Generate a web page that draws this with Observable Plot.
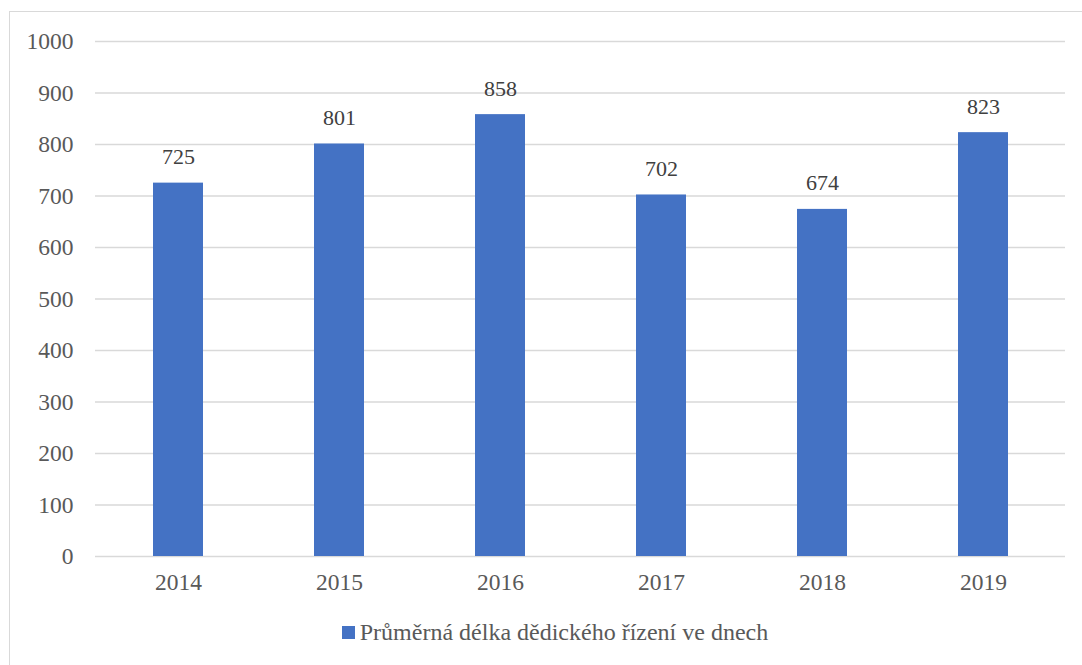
<!DOCTYPE html>
<html><head><meta charset="utf-8">
<script src="https://cdn.jsdelivr.net/npm/d3@7"></script>
<script src="https://cdn.jsdelivr.net/npm/@observablehq/plot@0.6"></script>
<style>
body{margin:0;background:#fff;}
.f{font-family:"Times New Roman",Times,Tinos,"Noto Serif","Liberation Serif","DejaVu Serif",serif;}
#frame{position:absolute;left:9px;top:11px;width:1090px;height:670px;border:1px solid #d9d9d9;box-sizing:border-box;}
#chart{position:absolute;left:0;top:0;}
#legend{position:absolute;left:0;top:619px;width:1110px;text-align:center;font-size:24px;color:#595959;}
#legend span.sw{display:inline-block;width:13px;height:13px;background:#4472C4;margin-right:5px;vertical-align:1px;}
</style></head>
<body class="f">
<div id="frame"></div>
<div id="chart"></div>
<div id="legend" class="f"><span class="sw"></span>Průměrná délka dědického řízení ve dnech</div>
<script>
const years = ["2014","2015","2016","2017","2018","2019"];
const values = [725, 801, 858, 702, 674, 823];
const yTicks = [0,100,200,300,400,500,600,700,800,900,1000];
const data = years.map((y,i)=>({year:y, value:values[i]}));
const FONT = "Times New Roman, Times, Tinos, Noto Serif, Liberation Serif, DejaVu Serif, serif";
const chart = Plot.plot({
  width:1082, height:600,
  marginTop:41, marginBottom:44, marginLeft:95, marginRight:17,
  style:{fontFamily:FONT, fontSize:"23px", color:"#595959", background:"transparent"},
  x:{domain:years, paddingInner:0.69, paddingOuter:0.345, label:null},
  y:{domain:[0,1000], label:null},
  marks:[
    Plot.ruleY(yTicks, {stroke:"#d9d9d9", strokeWidth:1.5}),
    Plot.barY(data, {x:"year", y:"value", fill:"#4472C4"}),
    Plot.text(data, {x:"year", y:"value", text:d=>String(d.value), dy:-26, fill:"#404040", fontSize:22, fontFamily:FONT}),
    Plot.axisY({ticks:yTicks, tickFormat:d=>String(d), tickSize:0, tickPadding:22, label:null, fontSize:23.5, fontFamily:FONT}),
    Plot.axisX({tickSize:0, tickPadding:17, label:null, fontSize:23.5, fontFamily:FONT})
  ]
});
document.getElementById("chart").appendChild(chart);
</script>
</body></html>
